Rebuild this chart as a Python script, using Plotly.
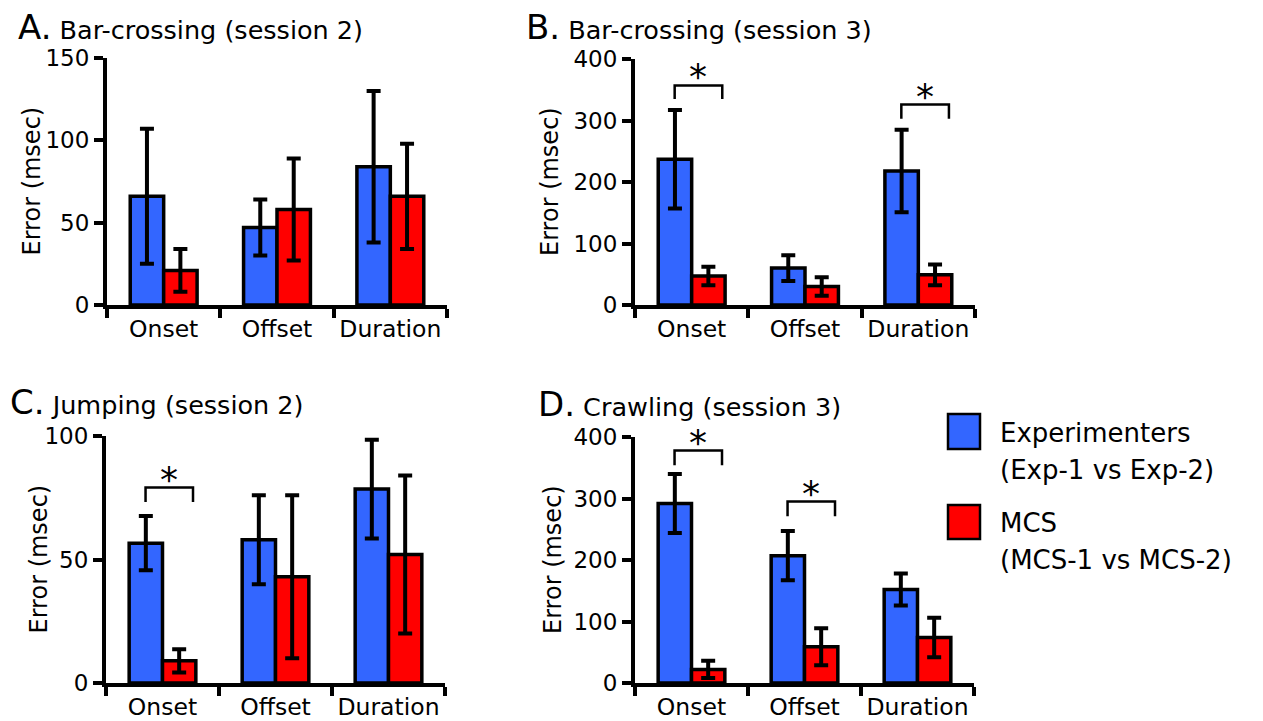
import plotly.graph_objects as go

categories = ["Onset", "Offset", "Duration"]

# Panel A: Bar-crossing (session 2)
a_exp = [66, 47, 84]
a_exp_err = [41, 17, 46]
a_mcs = [21, 58, 66]
a_mcs_err = [13, 31, 32]

# Panel B: Bar-crossing (session 3)
b_exp = [237, 60, 218]
b_exp_err = [80, 21, 67]
b_mcs = [47, 30, 49]
b_mcs_err = [15, 15, 17]

# Panel C: Jumping (session 2)
c_exp = [56.6, 58, 78.5]
c_exp_err = [11, 18, 20]
c_mcs = [9, 43, 52]
c_mcs_err = [4.7, 33, 32]

# Panel D: Crawling (session 3)
d_exp = [292, 207, 152]
d_exp_err = [48, 40, 26]
d_mcs = [22, 59, 74]
d_mcs_err = [14, 30, 32]

# significance brackets: (panel, category index, top y, leg bottom y)
brackets = [
    ("B", 0, 357, 335),
    ("B", 2, 326, 303),
    ("C", 0, 79.1, 73.3),
    ("D", 0, 378, 354),
    ("D", 1, 295, 271),
]

titles = {
    "A": "Bar-crossing (session 2)",
    "B": "Bar-crossing (session 3)",
    "C": "Jumping (session 2)",
    "D": "Crawling (session 3)",
}
y_ranges = {"A": [0, 150], "B": [0, 400], "C": [0, 100], "D": [0, 400]}
y_dtick = {"A": 50, "B": 100, "C": 50, "D": 100}
series_names = ["Experimenters (Exp-1 vs Exp-2)", "MCS (MCS-1 vs MCS-2)"]
legend_lines = [("Experimenters", "(Exp-1 vs Exp-2)"), ("MCS", "(MCS-1 vs MCS-2)")]

BLUE = "#3366FF"
RED = "#FF0000"
FONT = "DejaVu Sans"
W, H = 1263, 721

# pixel layout of each panel: x left, x right, y of zero (top px), y of max (top px)
panel_px = {
    "A": (107, 447, 305, 58),
    "B": (635, 975, 305, 59),
    "C": (106, 445, 683, 436),
    "D": (635, 974, 683, 437),
}
title_px = {"A": (16, 27), "B": (524, 27), "C": (8, 402), "D": (536, 404)}
ytitle_x = {"A": 31, "B": 550, "C": 38, "D": 553}

data = {
    "A": (a_exp, a_exp_err, a_mcs, a_mcs_err),
    "B": (b_exp, b_exp_err, b_mcs, b_mcs_err),
    "C": (c_exp, c_exp_err, c_mcs, c_mcs_err),
    "D": (d_exp, d_exp_err, d_mcs, d_mcs_err),
}

fig = go.Figure()
layout = dict(
    width=W, height=H, margin=dict(l=0, r=0, t=0, b=0, autoexpand=False),
    paper_bgcolor="white", plot_bgcolor="white",
    barmode="group", bargap=0.41, bargroupgap=0.0,
    showlegend=False, font=dict(family=FONT, color="black"),
)
annotations = []
shapes = []

for i, key in enumerate(["A", "B", "C", "D"]):
    n = "" if i == 0 else str(i + 1)
    xa, ya = "x" + n, "y" + n
    exp, exp_err, mcs, mcs_err = data[key]
    for vals, errs, col, name in [(exp, exp_err, BLUE, series_names[0]),
                                  (mcs, mcs_err, RED, series_names[1])]:
        fig.add_trace(go.Bar(
            x=categories, y=vals, name=name, xaxis=xa, yaxis=ya,
            marker=dict(color=col, line=dict(color="black", width=3.5)),
            error_y=dict(type="data", array=errs, visible=True,
                         color="black", thickness=4, width=7),
        ))
    x0, x1, yz, ym = panel_px[key]
    layout["xaxis" + n] = dict(
        domain=[x0 / W, x1 / W], anchor=ya, type="category",
        showline=True, linecolor="black", linewidth=4,
        ticks="outside", tickson="boundaries", ticklen=9, tickwidth=4,
        tickcolor="black", showgrid=False, zeroline=False, automargin=False,
        tickangle=0,
        tickfont=dict(size=23.5, family=FONT, color="black"),
        range=[-0.5, 2.5], fixedrange=True,
    )
    layout["yaxis" + n] = dict(
        domain=[1 - yz / H, 1 - ym / H], anchor=xa,
        range=y_ranges[key], dtick=y_dtick[key], tick0=0,
        showline=True, linecolor="black", linewidth=4,
        ticks="outside", ticklen=9, tickwidth=4, tickcolor="black",
        showgrid=False, zeroline=False, automargin=False,
        tickfont=dict(size=23, family=FONT, color="black"),
        fixedrange=True,
    )
    # y-axis title
    annotations.append(dict(
        xref="paper", yref="paper", x=ytitle_x[key] / W, y=1 - (yz + ym) / 2 / H,
        xanchor="center", yanchor="middle", showarrow=False, textangle=-90,
        text="Error (msec)", font=dict(size=24, family=FONT, color="black"),
    ))
    tx, ty = title_px[key]
    annotations.append(dict(
        xref="paper", yref="paper", x=tx / W, y=1 - ty / H,
        xanchor="left", yanchor="middle", showarrow=False,
        text=f"<span style='font-size:34px'>{key}.</span> {titles[key]}",
        font=dict(size=25.5, family=FONT, color="black"),
    ))

axis_suffix = {"A": "", "B": "2", "C": "3", "D": "4"}
for key, ci, ytop, ybot in brackets:
    n = axis_suffix[key]
    xl, xr = ci - 0.15, ci + 0.27
    shapes.append(dict(
        type="path", xref="x" + n, yref="y" + n,
        path=f"M {xl},{ybot} L {xl},{ytop} L {xr},{ytop} L {xr},{ybot}",
        line=dict(color="black", width=2.5),
    ))
    annotations.append(dict(
        xref="x" + n, yref="y" + n, x=(xl + xr) / 2, y=ytop,
        xanchor="center", yanchor="bottom", showarrow=False, yshift=-14,
        text="*", font=dict(size=36, family=FONT, color="black"),
    ))

# legend (drawn manually for large swatches)
sw_x0, sw_x1 = 948, 980
sw_rows = [(414, 449), (505, 539)]
legend_text_y = [(433, 470), (523, 560)]
for (r0, r1), col, (l1, l2), (ty1, ty2) in zip(sw_rows, [BLUE, RED], legend_lines, legend_text_y):
    shapes.append(dict(type="rect", xref="paper", yref="paper",
                       x0=sw_x0 / W, x1=sw_x1 / W, y0=1 - r1 / H, y1=1 - r0 / H,
                       fillcolor=col, line=dict(color="black", width=2.5)))
    for txt, yy in [(l1, ty1), (l2, ty2)]:
        annotations.append(dict(
            xref="paper", yref="paper", x=998 / W, y=1 - yy / H,
            xanchor="left", yanchor="middle", showarrow=False, align="left",
            text=txt, font=dict(size=26, family=FONT, color="black"),
        ))

layout["annotations"] = annotations
layout["shapes"] = shapes
fig.update_layout(**layout)
fig.write_html("out.html", config={"displayModeBar": False},
               post_script="document.body.style.margin='0';")
